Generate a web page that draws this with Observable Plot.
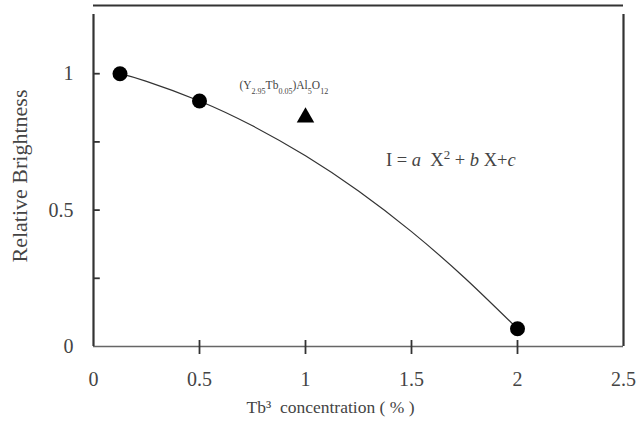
<!DOCTYPE html>
<html><head><meta charset="utf-8">
<script src="https://cdn.jsdelivr.net/npm/d3@7"></script>
<script src="https://cdn.jsdelivr.net/npm/@observablehq/plot@0.6"></script>
<style>
body{margin:0;background:#fff;}
svg text, svg tspan{font-family:"Liberation Serif","DejaVu Serif",serif !important;}
</style></head>
<body><div id="chart"></div>
<script>
// Measured points (Tb3+ concentration %, relative brightness)
const concentration = [0.125, 0.5, 2.0];
const brightness = [1.0, 0.9, 0.065];
// Reference compound
const refX = [1.0];
const refY = [0.84];
// Fitted curve
const curveX = [0.125, 0.25, 0.5, 0.75, 1.0, 1.25, 1.5, 1.75, 2.0];
const curveY = [1.0, 0.972, 0.9, 0.809, 0.699, 0.57, 0.421, 0.252, 0.065];
const xTicks = [0, 0.5, 1, 1.5, 2, 2.5];
const yTicks = [0, 0.5, 1];
const yMinorTicks = [0.25, 0.5, 0.75, 1];
const xInnerTicks = [0.5, 1, 1.5, 2];

const FONT = "Liberation Serif";
const points = concentration.map((x, i) => ({x, y: brightness[i]}));
const ref = refX.map((x, i) => ({x, y: refY[i]}));
const curve = curveX.map((x, i) => ({x, y: curveY[i]}));

const plot = Plot.plot({
  width: 643, height: 431,
  marginLeft: 93, marginRight: 20, marginTop: 5, marginBottom: 85,
  style: {fontFamily: FONT, fontSize: "17px", color: "#444", background: "#fff"},
  x: {domain: [0, 2.5]},
  y: {domain: [0, 1.25]},
  marks: [
    Plot.ruleY([0], {stroke: "#666", strokeWidth: 1.5}),
    Plot.ruleY([1.25], {stroke: "#333", strokeWidth: 2.2}),
    Plot.ruleX([0, 2.5], {y1: 0, y2: 1.25, stroke: "#333", strokeWidth: 2.2, insetBottom: -9}),
    Plot.ruleX(xInnerTicks, {y1: 0, y2: 0, insetTop: -6, insetBottom: -8, stroke: "#333", strokeWidth: 1.8}),
    Plot.ruleY(yMinorTicks, {x1: 0, x2: 0.032, stroke: "#333", strokeWidth: 1.8}),
    Plot.axisX({ticks: xTicks, tickSize: 0, tickPadding: 25, tickFormat: d => String(d), label: null, fontSize: 20, fontFamily: FONT, fill: "#444"}),
    Plot.axisY({ticks: yTicks, tickSize: 0, tickPadding: 20, tickFormat: d => String(d), label: null, fontSize: 20, fontFamily: FONT, fill: "#444"}),
    Plot.line(curve, {x: "x", y: "y", curve: "natural", stroke: "#333", strokeWidth: 1.2}),
    Plot.dot(points, {x: "x", y: "y", r: 7.5, fill: "#000", stroke: "none"}),
    Plot.dot(ref, {x: "x", y: "y", symbol: "triangle", r: 6.5, fill: "#000", stroke: "none"}),
    Plot.text(["Tb³  concentration ( % )"], {frameAnchor: "bottom", dx: -28, dy: 66, fontSize: 17.5, fontFamily: FONT, fill: "#444"}),
    Plot.text(["Relative Brightness"], {frameAnchor: "left", textAnchor: "middle", dx: -74, rotate: -90, fontSize: 22, fontFamily: FONT, fill: "#444"})
  ]
});
document.getElementById("chart").appendChild(plot);

// Rich-text annotations placed through the plot's own scales
const sx = plot.scale("x"), sy = plot.scale("y");
const svg = d3.select(plot);
function rich(x, y, size, anchor, parts) {
  const t = svg.append("text")
    .attr("x", sx.apply(x)).attr("y", sy.apply(y))
    .attr("text-anchor", anchor)
    .attr("font-size", size).attr("fill", "#444")
    .attr("font-family", FONT);
  parts.forEach(p => {
    const s = t.append("tspan").text(p.t);
    if (p.i) s.attr("font-style", "italic");
    if (p.sub) s.attr("baseline-shift", "sub").attr("font-size", size * 0.7);
    if (p.sup) s.attr("baseline-shift", "super").attr("font-size", size * 0.7);
  });
}
const formulaX = 0.9, formulaY = 0.943;
rich(formulaX, formulaY, 11.5, "middle", [
  {t: "(Y"}, {t: "2.95", sub: true}, {t: "Tb"}, {t: "0.05", sub: true},
  {t: ")Al"}, {t: "5", sub: true}, {t: "O"}, {t: "12", sub: true}
]);
const eqX = 1.382, eqY = 0.66;
rich(eqX, eqY, 18.5, "start", [
  {t: "I = "}, {t: "a", i: true}, {t: "  X"}, {t: "2", sup: true},
  {t: " + "}, {t: "b", i: true}, {t: " X+"}, {t: "c", i: true}
]);
svg.selectAll("text").style("font-family", '"Liberation Serif", serif');
</script></body></html>
